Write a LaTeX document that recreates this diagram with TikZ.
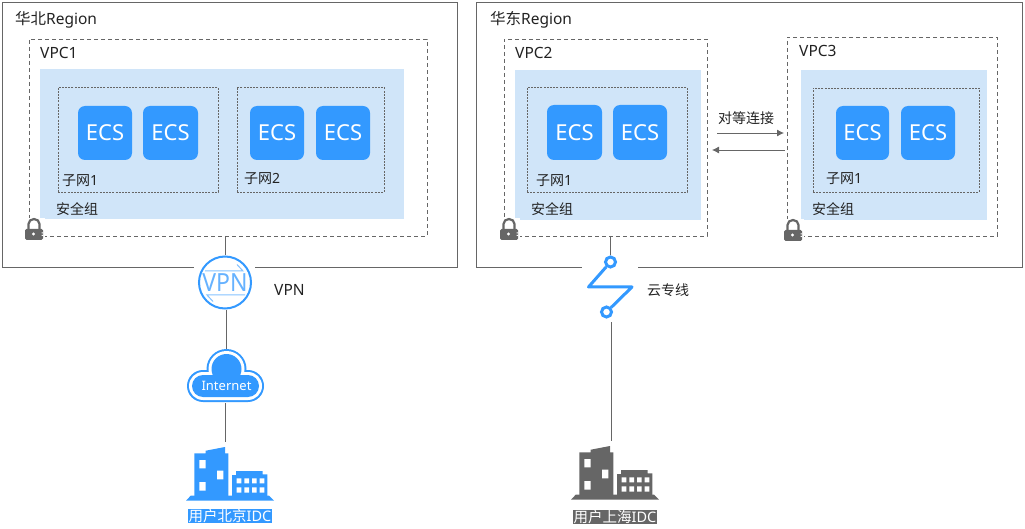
\documentclass[tikz,border=0pt]{standalone}
\usepackage{fontspec}
\setmainfont{Noto Sans}
\newfontfamily\cjk{Noto Sans CJK SC}
\usetikzlibrary{arrows.meta}
\definecolor{hwblue}{HTML}{3399FF}
\definecolor{hwlight}{HTML}{D0E5F9}
\definecolor{hwgray}{HTML}{666666}
\definecolor{hwtext}{HTML}{222222}
\tikzset{
  anchorbox/.style={anchor=north west,inner sep=0pt,outer sep=0pt},
  regionbox/.style={anchorbox,draw=hwgray,line width=0.9pt},
  vpcbox/.style={anchorbox,draw=hwgray,line width=0.7pt,dash pattern=on 4pt off 3pt},
  sgbox/.style={anchorbox,fill=hwlight},
  subnetbox/.style={anchorbox,draw=hwgray,line width=0.7pt,dash pattern=on 2pt off 1.2pt},
  ecsbox/.style={anchorbox,fill=hwblue,rounded corners=7pt,text=white,font=\fontsize{22}{22}\selectfont,align=center},
  lab/.style={anchor=west,inner sep=0pt,text=hwtext,font=\fontsize{14}{15}\selectfont},
  biglab/.style={lab,font=\fontsize{15.5}{16}\selectfont},
  conn/.style={draw=hwgray,line width=0.8pt},
  pair/.style={draw=hwgray,line width=0.8pt,-{Latex[length=7pt,width=7pt]}},
  idc/.style={inner sep=0.5pt,text=white,font=\fontsize{14.5}{15}\selectfont}
}
\newcommand{\bx}[7]{\node[#1,minimum width=#6pt-#4pt,minimum height=#7pt-#5pt] (#2) at (#4,#5) {#3};}
\newcommand{\ecs}[5]{\node[ecsbox,minimum width=#4pt-#2pt,minimum height=#5pt-#3pt] (#1) at (#2,#3) {ECS};}
\newcommand{\lockicon}[2]{%
  \begin{scope}[shift={(#1,#2)}]
    \fill[white] (-1,0) rectangle (20,23);
    \draw[hwgray,line width=2.2pt] (3.5,12) -- (3.5,6) arc[start angle=180,end angle=0,x radius=5.5pt,y radius=5pt] -- (14.5,12);
    \fill[hwgray,rounded corners=1.5pt] (0,11) rectangle (18,22);
    \fill[white] (8.5,16) circle[radius=1.7pt];
    \fill[white] (16.5,14.5) rectangle (18,15.3) (16.5,17) rectangle (18,17.8);
  \end{scope}}
\newcommand{\buildingicon}[3]{%
  \begin{scope}[shift={(#1,#2)}]
    \fill[#3] (0,53.7) -- (4.7,48.7) -- (83,48.7) -- (88,53.7) -- cycle;
    \fill[#3] (8.3,49) -- (8.3,6.3) -- (19.7,6.3) -- (19.7,3.7) -- (39,0) -- (39,6.3) -- (42.3,6.3) -- (42.3,49) -- cycle;
    \fill[#3] (46,49) -- (46,28) -- (50,28) -- (50,24) -- (76.7,24) -- (76.7,27.3) -- (81.3,27.3) -- (81.3,49) -- cycle;
    \fill[white] (13.3,13) rectangle (19.7,21.3) (31,23.7) rectangle (37.3,32.3) (13.3,35) rectangle (19.7,43.7);
    \foreach \xa in {50.7,58.3,66,73.7}{
      \fill[white] (\xa,31.3) rectangle ++(4.7,5) (\xa,40.3) rectangle ++(4.7,5.3);}
  \end{scope}}
\newcommand{\cloudfill}[2]{\fill[#1] (226.5,369) circle[radius=20pt+#2pt] (203,386) circle[radius=16pt+#2pt] (248,386) circle[radius=16pt+#2pt] (203,370-#2) rectangle (248,402+#2);}
\begin{document}
\begin{tikzpicture}[x=1pt,y=-1pt]
\useasboundingbox (0,0) rectangle (1025,529);
% regions
\bx{regionbox}{north}{}{2}{2}{457.5}{267}
\bx{regionbox}{east}{}{476}{2}{1022.5}{267}
% VPCs
\bx{vpcbox}{vpca}{}{29}{39}{427}{236}
\bx{vpcbox}{vpcb}{}{504}{39}{707}{236}
\bx{vpcbox}{vpcc}{}{787}{37}{997}{236}
% security groups
\bx{sgbox}{sga}{}{40}{69}{404}{219}
\bx{sgbox}{sgb}{}{515}{70}{701}{220}
\bx{sgbox}{sgc}{}{801}{70}{987}{220}
% subnets
\bx{subnetbox}{suba}{}{58}{87}{218}{192}
\bx{subnetbox}{subb}{}{237}{87}{384}{192}
\bx{subnetbox}{subc}{}{527}{87}{687}{192}
\bx{subnetbox}{subd}{}{813}{88}{979}{192}
% ECS
\ecs{e1}{78}{106}{132}{160}
\ecs{e2}{143}{106}{198}{160}
\ecs{e3}{250}{106}{304}{160}
\ecs{e4}{316}{106}{370}{160}
\ecs{e5}{547}{105}{602}{160}
\ecs{e6}{613}{105}{667}{160}
\ecs{e7}{836}{106}{889}{160}
\ecs{e8}{901}{106}{955}{160}
% labels
\node[biglab] (t1) at (15,19.5) {{\cjk 华北}Region};
\node[biglab] (t2) at (490,19.5) {{\cjk 华东}Region};
\node[biglab] (t3) at (40,53) {VPC1};
\node[biglab] (t4) at (515,53) {VPC2};
\node[biglab] (t5) at (799,51) {VPC3};
\node[lab] (t6) at (62,181) {{\cjk 子网}1};
\node[lab] (t7) at (244,179) {{\cjk 子网}2};
\node[lab] (t8) at (536,181) {{\cjk 子网}1};
\node[lab] (t9) at (826,179) {{\cjk 子网}1};
\node[lab] (t10) at (56,209) {\cjk 安全组};
\node[lab] (t11) at (531,209) {\cjk 安全组};
\node[lab] (t12) at (812,209) {\cjk 安全组};
\node[biglab] (t13) at (274,289.5) {VPN};
\node[lab] (t14) at (647,290) {\cjk 云专线};
\node[lab,anchor=center] (t15) at (746,118) {\cjk 对等连接};
% locks
\lockicon{25}{218}
\lockicon{500}{218}
\lockicon{784}{219}
% gaps in region borders
\fill[white] (194,265) rectangle (254.5,269);
\fill[white] (581.5,265) rectangle (637.5,269);
% peering arrows
\coordinate (pa1) at (717,133);
\coordinate (pa2) at (784,133);
\coordinate (pb1) at (785,150);
\coordinate (pb2) at (712,150);
\draw[pair] (pa1) -- (pa2);
\draw[pair] (pb1) -- (pb2);
% VPN icon
\node[circle,draw=hwblue,line width=2pt,fill=white,minimum size=52pt,inner sep=0pt] (vpn) at (225,282.5) {};
\node[text=hwblue!75!white,font=\fontsize{25}{25}\selectfont,inner sep=0pt,xscale=0.92] (vpntext) at (225,283) {VPN};
\draw[hwblue!60!white,line width=1pt] (205,271) -- (243,271) -- (237,264.5);
\draw[hwblue!60!white,line width=1pt] (245,295) -- (207,295) -- (213,301.5);
% cloud
\cloudfill{hwblue}{0}
\cloudfill{white}{-2}
\cloudfill{hwblue}{-5}
\node[text=white,inner sep=0pt,font=\fontsize{13}{14}\selectfont] (inet) at (226.5,386) {Internet};
\coordinate (inettop) at (226.5,349);
\coordinate (inetbot) at (225.5,403);
% direct connect icon
\node[circle,draw=hwblue,line width=3pt,fill=white,minimum size=10pt,inner sep=0pt] (dca) at (610.5,262) {};
\node[circle,draw=hwblue,line width=3pt,fill=white,minimum size=10pt,inner sep=0pt] (dcb) at (606.5,312) {};
\draw[hwblue,line width=3pt,line join=round] (dca) -- (588.5,287) -- (632,287) -- (dcb);
% buildings
\buildingicon{186}{447}{hwblue}
\buildingicon{571}{446}{hwgray}
\coordinate (bda) at (225.5,442);
\coordinate (bdb) at (611.5,441);
\coordinate (dcc) at (611.5,322);
\coordinate (vpnb) at (226.5,310);
% IDC labels
\node[idc,fill=hwblue] (idca) at (230,516) {{\cjk 用户北京}IDC};
\node[idc,fill=hwgray] (idcb) at (615,517) {{\cjk 用户上海}IDC};
% connectors
\draw[conn] (vpn.north |- vpca.south) -- (vpn.north);
\draw[conn] (vpnb) -- (inettop);
\draw[conn] (inetbot) -- (bda);
\draw[conn] (dca.north |- vpcb.south) -- (dca.north);
\draw[conn] (dcc) -- (bdb);
\end{tikzpicture}
\end{document}
